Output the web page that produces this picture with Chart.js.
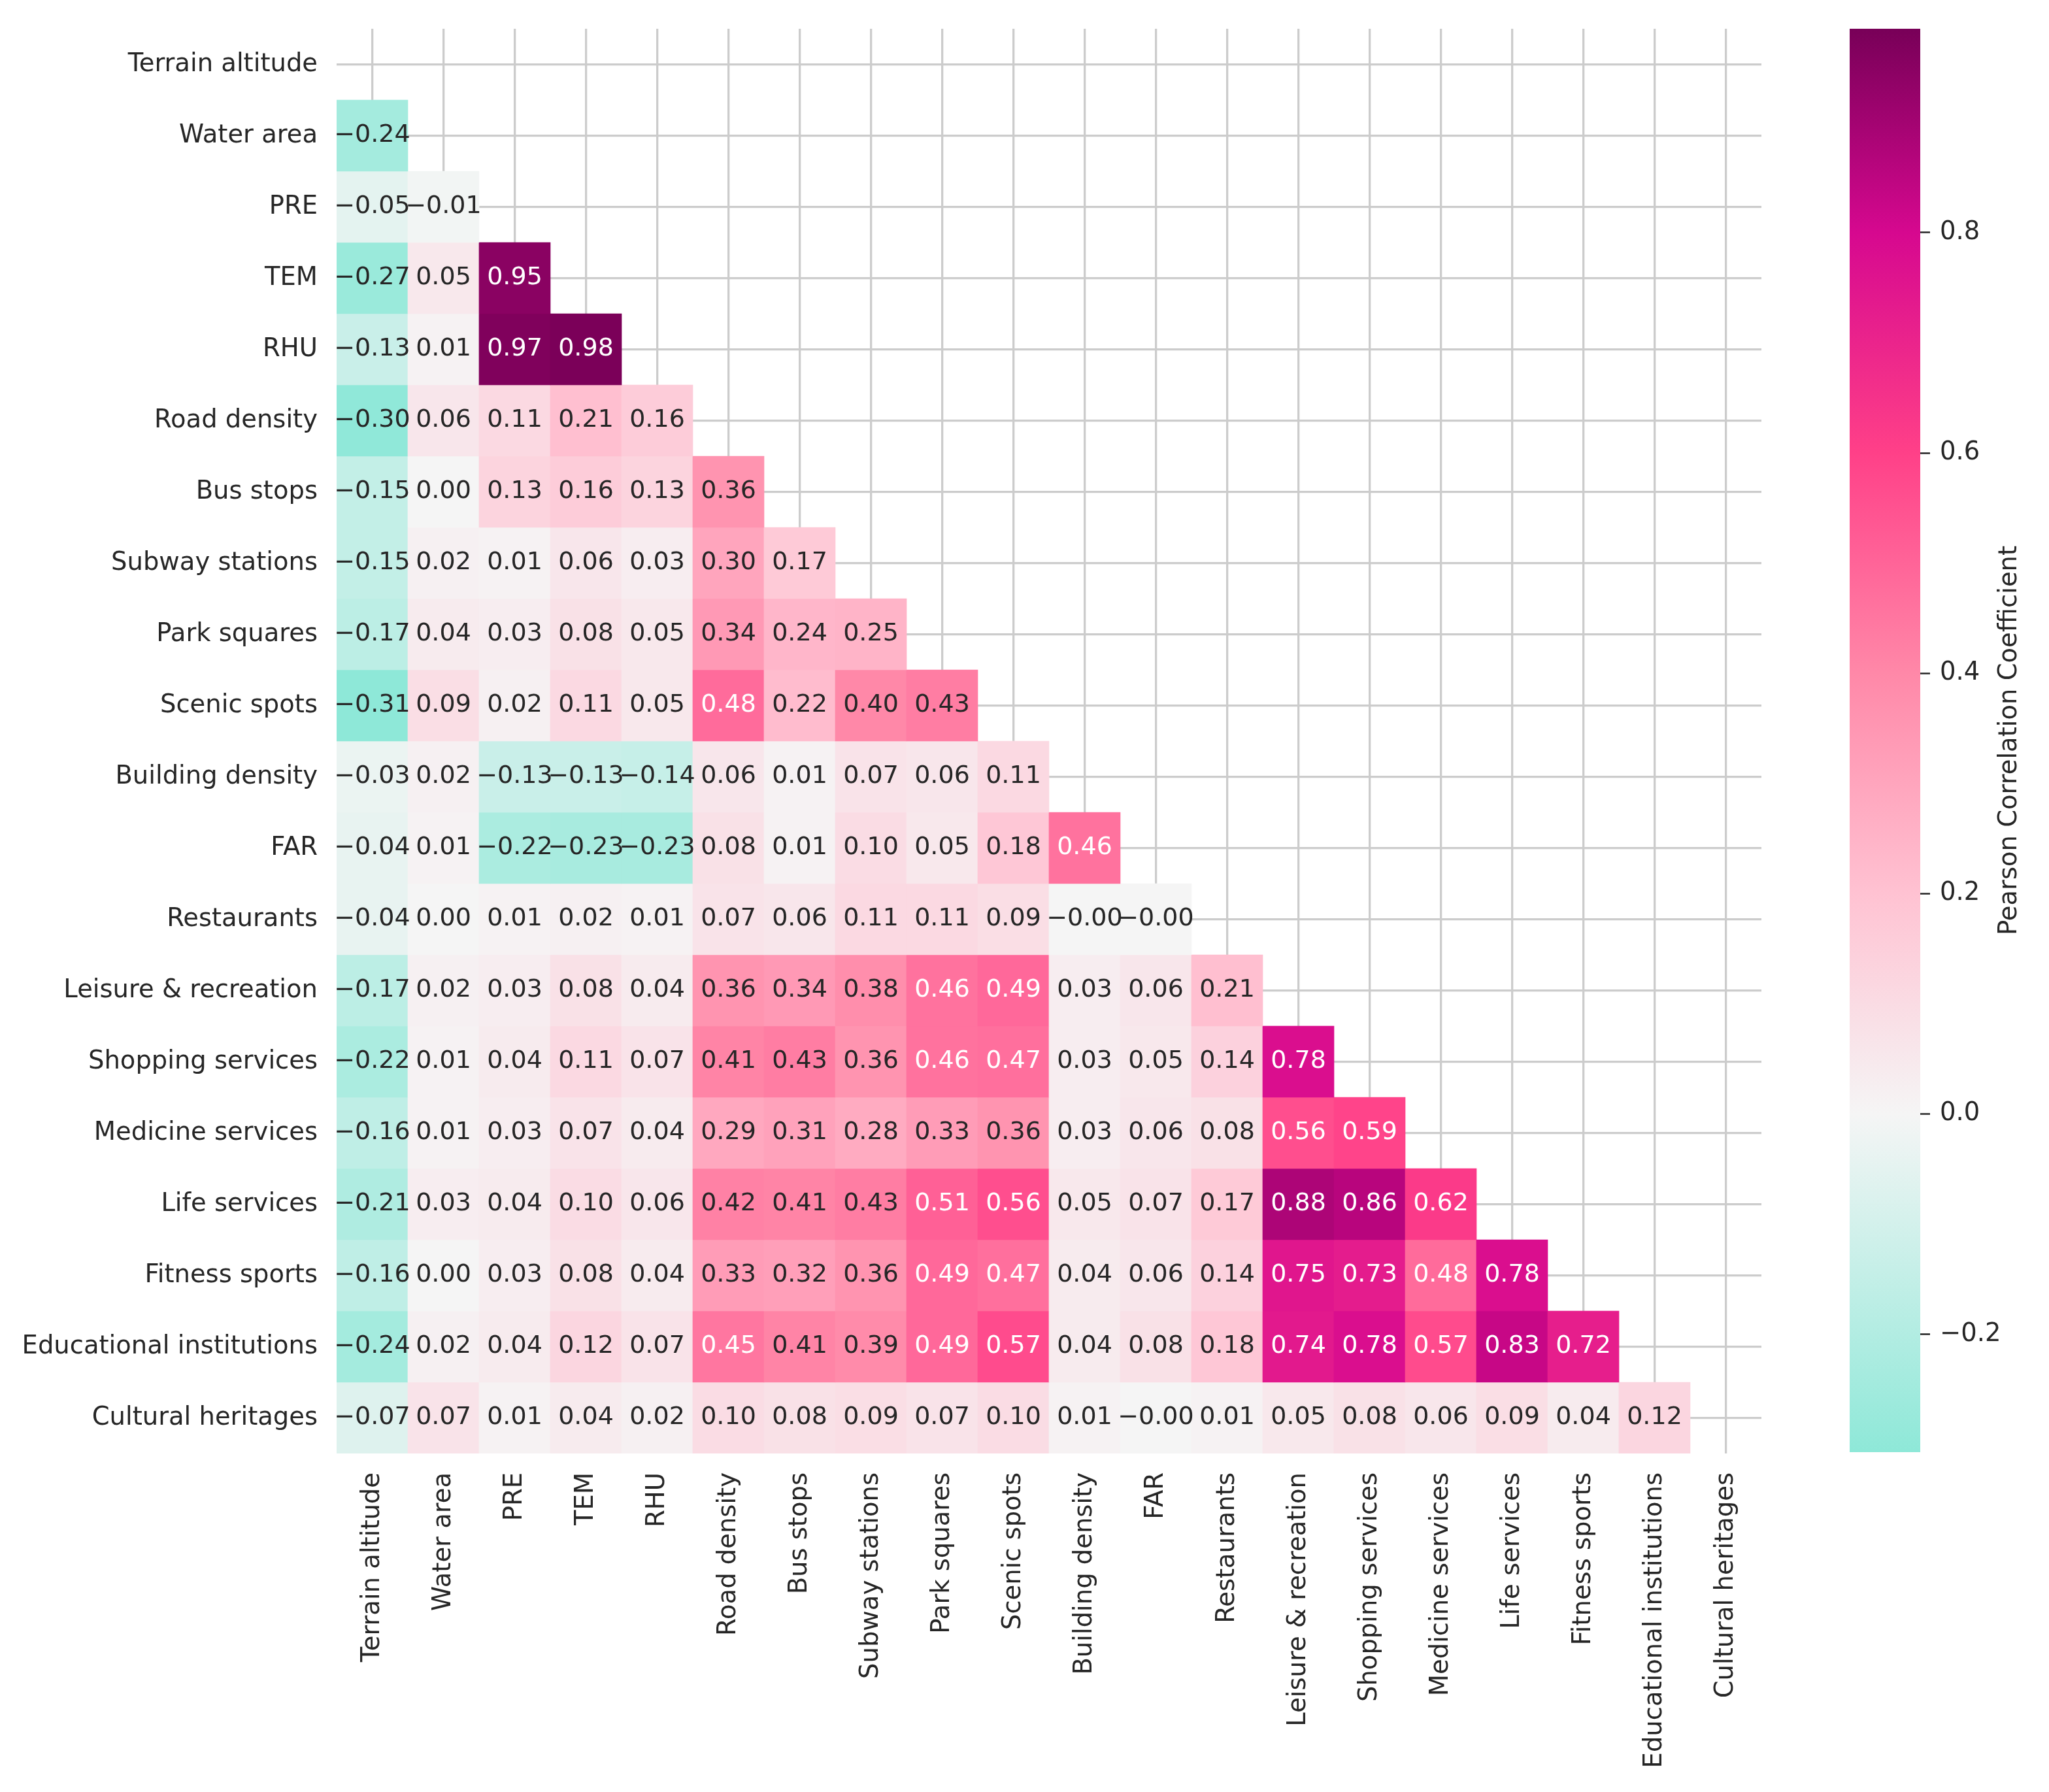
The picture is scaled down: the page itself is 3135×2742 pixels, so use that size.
<!DOCTYPE html>
<html>
<head>
<meta charset="utf-8">
<script src="https://cdn.jsdelivr.net/npm/chart.js@4.4.1/dist/chart.umd.min.js"></script>
<style>
  html, body { margin: 0; padding: 0; background: #fff; }
  #wrap { position: relative; width: 3135px; height: 2742px; }
  #wrap canvas { position: absolute; left: 0; top: 0; }
</style>
</head>
<body>
<div id="wrap">
  <canvas id="heat" width="3135" height="2742"></canvas>
  <canvas id="cbar" width="3135" height="2742"></canvas>
</div>
<script>
// variable names, same order on both axes
const labels = [
  "Terrain altitude", "Water area", "PRE", "TEM", "RHU", "Road density",
  "Bus stops", "Subway stations", "Park squares", "Scenic spots",
  "Building density", "FAR", "Restaurants", "Leisure & recreation",
  "Shopping services", "Medicine services", "Life services",
  "Fitness sports", "Educational institutions", "Cultural heritages",
];

// lower triangle of the correlation matrix, row by row
const corr = [
  [],
  [-0.24],
  [-0.05, -0.01],
  [-0.27, 0.05, 0.95],
  [-0.13, 0.01, 0.97, 0.98],
  [-0.30, 0.06, 0.11, 0.21, 0.16],
  [-0.15, 0.00, 0.13, 0.16, 0.13, 0.36],
  [-0.15, 0.02, 0.01, 0.06, 0.03, 0.30, 0.17],
  [-0.17, 0.04, 0.03, 0.08, 0.05, 0.34, 0.24, 0.25],
  [-0.31, 0.09, 0.02, 0.11, 0.05, 0.48, 0.22, 0.40, 0.43],
  [-0.03, 0.02, -0.13, -0.13, -0.14, 0.06, 0.01, 0.07, 0.06, 0.11],
  [-0.04, 0.01, -0.22, -0.23, -0.23, 0.08, 0.01, 0.10, 0.05, 0.18, 0.46],
  [-0.04, 0.00, 0.01, 0.02, 0.01, 0.07, 0.06, 0.11, 0.11, 0.09, -0.00, -0.00],
  [-0.17, 0.02, 0.03, 0.08, 0.04, 0.36, 0.34, 0.38, 0.46, 0.49, 0.03, 0.06, 0.21],
  [-0.22, 0.01, 0.04, 0.11, 0.07, 0.41, 0.43, 0.36, 0.46, 0.47, 0.03, 0.05, 0.14, 0.78],
  [-0.16, 0.01, 0.03, 0.07, 0.04, 0.29, 0.31, 0.28, 0.33, 0.36, 0.03, 0.06, 0.08, 0.56, 0.59],
  [-0.21, 0.03, 0.04, 0.10, 0.06, 0.42, 0.41, 0.43, 0.51, 0.56, 0.05, 0.07, 0.17, 0.88, 0.86, 0.62],
  [-0.16, 0.00, 0.03, 0.08, 0.04, 0.33, 0.32, 0.36, 0.49, 0.47, 0.04, 0.06, 0.14, 0.75, 0.73, 0.48, 0.78],
  [-0.24, 0.02, 0.04, 0.12, 0.07, 0.45, 0.41, 0.39, 0.49, 0.57, 0.04, 0.08, 0.18, 0.74, 0.78, 0.57, 0.83, 0.72],
  [-0.07, 0.07, 0.01, 0.04, 0.02, 0.10, 0.08, 0.09, 0.07, 0.10, 0.01, -0.00, 0.01, 0.05, 0.08, 0.06, 0.09, 0.04, 0.12],
];

// colorbar
const cbMin = -0.307;
const cbMax = 0.985;
const cbTicks = [-0.2, 0.0, 0.2, 0.4, 0.6, 0.8];
const cbTitle = "Pearson Correlation Coefficient";

// colormap (teal -> white -> pink -> purple)
const cmapVals = [cbMin, 0.0, 0.2, 0.4, 0.6, 0.8, cbMax];
const cmapRgb = [
  [142, 232, 216],
  [245, 245, 245],
  [255, 194, 210],
  [255, 136, 168],
  [255, 64, 136],
  [214, 8, 143],
  [120, 0, 88],
];

const FONT = "'DejaVu Sans', sans-serif";
const TXT = "#262626";
const LABEL_SIZE = 38.5;
const ANNOT_SIZE = 38;

const cmap = (v) => {
  v = Math.max(cbMin, Math.min(cbMax, v));
  let k = 0;
  while (k < cmapVals.length - 2 && v > cmapVals[k + 1]) k++;
  const t = (v - cmapVals[k]) / (cmapVals[k + 1] - cmapVals[k]);
  const a = cmapRgb[k], b = cmapRgb[k + 1];
  const c = a.map((x, n) => Math.round(x + (b[n] - x) * t));
  return `rgb(${c[0]}, ${c[1]}, ${c[2]})`;
};

const fmt = (v) => {
  const neg = v < 0 || Object.is(v, -0);
  return (neg ? "\u2212" : "") + Math.abs(v).toFixed(2);
};

// one floating-bar dataset per row of the matrix
const datasets = corr.map((row, i) => ({
  rowValues: row,
  data: labels.map((_, j) => (j < i ? [i - 0.5, i + 0.5] : null)),
  backgroundColor: labels.map((_, j) => (j < i ? cmap(row[j]) : "rgba(0,0,0,0)")),
  borderWidth: 0,
  barPercentage: 1,
  categoryPercentage: 1,
  grouped: false,
}));

const annotate = {
  id: "annotate",
  afterDatasetsDraw(chart) {
    const ctx = chart.ctx;
    ctx.save();
    ctx.font = `${ANNOT_SIZE}px ${FONT}`;
    ctx.textAlign = "center";
    ctx.textBaseline = "middle";
    chart.data.datasets.forEach((ds, d) => {
      const meta = chart.getDatasetMeta(d);
      meta.data.forEach((el, j) => {
        const v = ds.rowValues[j];
        if (v === undefined) return;
        const p = el.getProps(["x", "y", "base"], true);
        ctx.fillStyle = v >= 0.44 ? "#ffffff" : TXT;
        ctx.fillText(fmt(v), p.x, (p.y + p.base) / 2);
      });
    });
    ctx.restore();
  },
};

new Chart(document.getElementById("heat"), {
  type: "bar",
  data: { labels: labels, datasets: datasets },
  options: {
    responsive: false,
    animation: false,
    layout: { padding: { left: 0, top: 44, right: 440, bottom: 0 } },
    plugins: { legend: { display: false }, tooltip: { enabled: false } },
    scales: {
      x: {
        type: "category",
        offset: true,
        border: { display: false },
        grid: { offset: false, color: "#cccccc", lineWidth: 3.3, drawTicks: false },
        ticks: {
          autoSkip: false,
          maxRotation: 90,
          minRotation: 90,
          padding: 29,
          color: TXT,
          font: { family: FONT, size: LABEL_SIZE },
        },
        afterFit: (s) => {
          s.height = 518;
          s.paddingLeft = 0;
          s.paddingRight = 0;
        },
      },
      y: {
        type: "linear",
        reverse: true,
        min: -0.5,
        max: 19.5,
        border: { display: false },
        grid: { color: "#cccccc", lineWidth: 3.3, drawTicks: false },
        afterBuildTicks: (s) => {
          s.ticks = labels.map((_, i) => ({ value: i }));
        },
        ticks: {
          padding: 29,
          color: TXT,
          font: { family: FONT, size: LABEL_SIZE },
          callback: (v) => labels[v],
        },
        afterFit: (s) => {
          s.width = 515;
          s.paddingTop = 0;
          s.paddingBottom = 0;
        },
      },
    },
  },
  plugins: [annotate],
});

const cbarTitle = {
  id: "cbarTitle",
  afterDraw(chart) {
    const { ctx, chartArea } = chart;
    ctx.save();
    ctx.translate(chartArea.right + 137, (chartArea.top + chartArea.bottom) / 2);
    ctx.rotate(-Math.PI / 2);
    ctx.font = `${LABEL_SIZE}px ${FONT}`;
    ctx.fillStyle = TXT;
    ctx.textAlign = "center";
    ctx.textBaseline = "middle";
    ctx.fillText(cbTitle, 0, 0);
    ctx.restore();
  },
};

new Chart(document.getElementById("cbar"), {
  type: "bar",
  data: {
    labels: [""],
    datasets: [
      {
        data: [[cbMin, cbMax]],
        borderWidth: 0,
        barPercentage: 1,
        categoryPercentage: 1,
        backgroundColor: (c) => {
          const chart = c.chart;
          if (!chart.chartArea) return "#ffffff";
          const y = chart.scales.y;
          const g = chart.ctx.createLinearGradient(0, y.getPixelForValue(cbMin), 0, y.getPixelForValue(cbMax));
          cmapVals.forEach((v) => g.addColorStop((v - cbMin) / (cbMax - cbMin), cmap(v)));
          return g;
        },
      },
    ],
  },
  options: {
    responsive: false,
    animation: false,
    layout: { padding: { left: 2830, top: 44, right: 0, bottom: 520 } },
    plugins: { legend: { display: false }, tooltip: { enabled: false } },
    scales: {
      x: { display: false, offset: true },
      y: {
        position: "right",
        min: cbMin,
        max: cbMax,
        border: { display: false },
        grid: {
          drawOnChartArea: false,
          drawTicks: true,
          tickLength: 15,
          tickColor: TXT,
          tickWidth: 2.5,
        },
        afterBuildTicks: (s) => {
          s.ticks = cbTicks.map((v) => ({ value: v }));
        },
        ticks: {
          padding: 15,
          color: TXT,
          font: { family: FONT, size: LABEL_SIZE },
          callback: (v) => (v < 0 ? "\u2212" : "") + Math.abs(v).toFixed(1),
        },
        afterFit: (s) => {
          s.width = 197;
          s.paddingTop = 0;
          s.paddingBottom = 0;
        },
      },
    },
  },
  plugins: [cbarTitle],
});
</script>
</body>
</html>
